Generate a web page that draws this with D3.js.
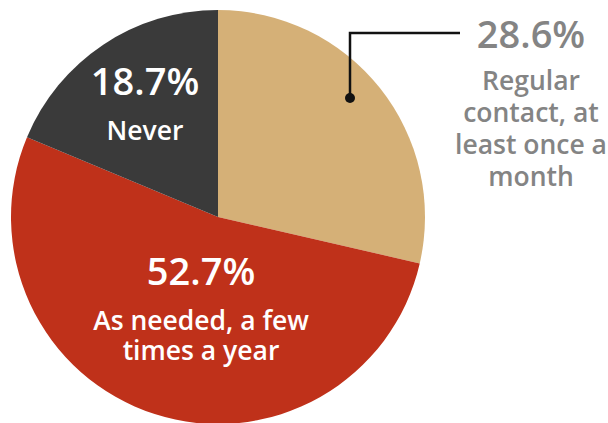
<!DOCTYPE html>
<html lang="en">
<head>
    <meta charset="UTF-8">
    <title>contact pie</title>
    <script src="https://cdn.jsdelivr.net/npm/d3@7"></script>
    <style>
        body { margin: 0; background: #fff; }
        text { font-family: "Open Sans", sans-serif; font-weight: 600; }
    </style>
</head>
<body>
    <script>
        // data
        var categories = ["Regular contact", "As needed", "Never"]
        var values = [28.6, 52.7, 18.7]
        var colors = ["#d5b077", "#bf311a", "#3a3a3a"]
        var labelLines = [
            ["Regular", "contact, at", "least once a", "month"],
            ["As needed, a few", "times a year"],
            ["Never"]
        ]

        var W = 608, H = 423
        var cx = 218, cy = 217, R = 207

        var svg = d3.select("body")
            .append("svg")
            .attr("width", W)
            .attr("height", H)

        var pie = d3.pie().sort(null).value(function(d) { return d })
        var arc = d3.arc().innerRadius(0).outerRadius(R)
        var arcs = pie(values)

        var g = svg.append("g").attr("transform", "translate(" + cx + "," + cy + ")")
        g.selectAll("path")
            .data(arcs)
            .enter()
            .append("path")
            .attr("d", arc)
            .attr("fill", function(d, i) { return colors[i] })

        // label placement (relative to pie centre)
        var fmt = function(v) { return v.toFixed(1) + "%" }
        var spots = [
            { x: 531 - cx, y: 48 - cy, fill: "#848484", gap: 42, lh: 32, size: 38, sub: 26.5 },
            { x: 201 - cx, y: 285 - cy, fill: "#fff", gap: 45, lh: 30, size: 38, sub: 26.5 },
            { x: 145 - cx, y: 95 - cy, fill: "#fff", gap: 45, lh: 30, size: 38, sub: 26.5 }
        ]

        arcs.forEach(function(a, i) {
            var s = spots[i]
            var t = g.append("text")
                .attr("text-anchor", "middle")
                .attr("fill", s.fill)
            t.append("tspan")
                .attr("x", s.x).attr("y", s.y)
                .style("font-size", s.size + "px")
                .text(fmt(values[i]))
            labelLines[i].forEach(function(line, j) {
                t.append("tspan")
                    .attr("x", s.x).attr("y", s.y + s.gap + j * s.lh)
                    .style("font-size", s.sub + "px")
                    .text(line)
            })
        })

        // leader line for the tan slice
        var dot = [350 - cx, 98 - cy]
        g.append("path")
            .attr("d", d3.line()([dot, [dot[0], 33 - cy], [460 - cx, 33 - cy]]))
            .attr("fill", "none")
            .attr("stroke", "#111")
            .attr("stroke-width", 2.5)
        g.append("circle")
            .attr("cx", dot[0]).attr("cy", dot[1])
            .attr("r", 5)
            .attr("fill", "#111")
    </script>
</body>
</html>
